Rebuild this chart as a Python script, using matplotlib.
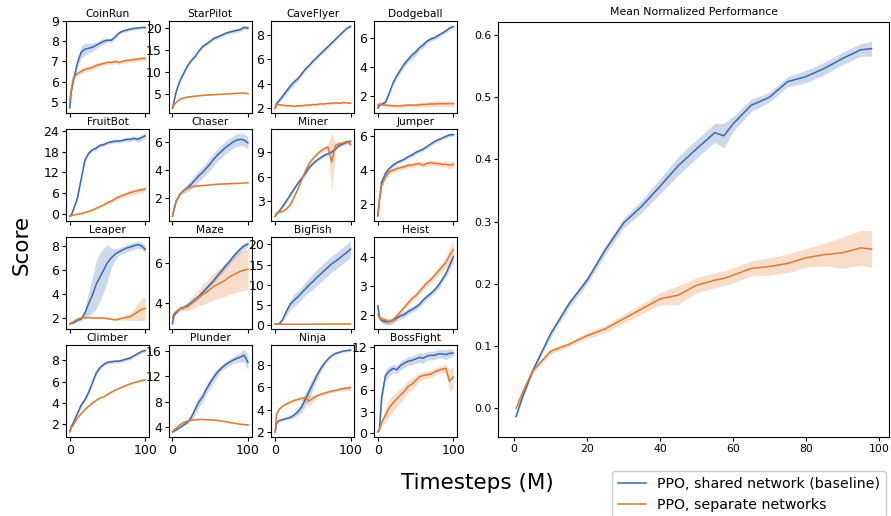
import matplotlib
matplotlib.use("Agg")
import matplotlib.pyplot as plt

steps = [0, 2, 5, 10, 15, 20, 25, 30, 35, 40, 45, 50, 55, 60, 65, 70, 75, 80, 85, 90, 95, 100]
mean_steps = [0.5, 2, 5, 10, 15, 20, 25, 30, 35, 40, 45, 50, 55, 57.5, 60, 65, 70, 75, 80, 85, 90, 95, 98]

games = ["CoinRun", "StarPilot", "CaveFlyer", "Dodgeball",
         "FruitBot", "Chaser", "Miner", "Jumper",
         "Leaper", "Maze", "BigFish", "Heist",
         "Climber", "Plunder", "Ninja", "BossFight"]

game_yticks = [[5, 6, 7, 8, 9], [5, 10, 15, 20], [2, 4, 6, 8], [2, 4, 6],
               [0, 6, 12, 18, 24], [2, 4, 6], [3, 6, 9], [2, 4, 6],
               [2, 4, 6, 8], [4, 6], [0, 5, 10, 15, 20], [2, 3, 4],
               [2, 4, 6, 8], [4, 8, 12, 16], [2, 4, 6, 8], [0, 3, 6, 9, 12]]

# PPO, shared network (baseline)
shared = [
    [4.7, 5.5, 6.1, 6.9, 7.45, 7.6, 7.65, 7.7, 7.8, 7.9, 8.0, 8.05, 8.05, 8.2, 8.4, 8.5, 8.55, 8.6, 8.63, 8.65, 8.68, 8.68],
    [1.6, 3.2, 5.5, 8.0, 9.7, 11.4, 12.6, 13.5, 14.8, 15.8, 16.4, 17.0, 17.7, 18.0, 18.4, 18.8, 19.1, 19.3, 19.5, 19.7, 20.2, 20.0],
    [2.0, 2.4, 2.6, 3.0, 3.4, 3.8, 4.15, 4.4, 4.8, 5.2, 5.5, 5.85, 6.15, 6.45, 6.75, 7.05, 7.35, 7.65, 7.95, 8.25, 8.55, 8.7],
    [1.2, 1.4, 1.45, 1.6, 2.2, 2.9, 3.4, 3.8, 4.2, 4.5, 4.8, 5.0, 5.3, 5.5, 5.75, 5.9, 6.0, 6.15, 6.3, 6.45, 6.65, 6.75],
    [-0.5, -0.3, 1.5, 4.5, 10.0, 15.5, 17.5, 18.5, 19.0, 19.8, 20.0, 20.5, 20.8, 21.0, 21.0, 21.2, 21.5, 21.5, 21.8, 21.5, 22.0, 22.5],
    [0.7, 1.2, 1.8, 2.3, 2.55, 2.75, 3.0, 3.3, 3.6, 3.85, 4.15, 4.45, 4.8, 5.1, 5.35, 5.6, 5.8, 6.0, 6.15, 6.2, 6.15, 5.95],
    [1.2, 1.5, 1.8, 2.4, 3.1, 3.8, 4.5, 5.2, 5.8, 6.4, 7.1, 7.6, 8.0, 8.3, 8.6, 8.8, 9.0, 9.4, 9.8, 10.0, 10.2, 10.3],
    [1.3, 2.2, 3.3, 3.8, 4.1, 4.3, 4.45, 4.55, 4.65, 4.8, 4.9, 5.05, 5.15, 5.25, 5.4, 5.55, 5.7, 5.8, 5.9, 6.0, 6.1, 6.1],
    [1.5, 1.55, 1.6, 1.8, 1.9, 2.4, 3.2, 3.9, 4.8, 5.4, 6.0, 6.6, 7.0, 7.3, 7.5, 7.65, 7.8, 7.9, 8.0, 8.1, 8.0, 7.7],
    [3.0, 3.4, 3.55, 3.75, 3.8, 3.9, 4.05, 4.2, 4.35, 4.55, 4.75, 4.95, 5.15, 5.4, 5.6, 5.85, 6.05, 6.3, 6.5, 6.7, 6.85, 6.95],
    [0.3, 0.3, 0.3, 1.5, 3.5, 5.2, 6.2, 7.0, 8.0, 9.0, 10.0, 10.8, 11.8, 12.6, 13.5, 14.3, 15.2, 15.8, 16.5, 17.3, 18.0, 18.8],
    [2.3, 1.9, 1.8, 1.75, 1.75, 1.8, 1.88, 1.95, 2.0, 2.1, 2.17, 2.25, 2.35, 2.5, 2.62, 2.72, 2.85, 3.0, 3.2, 3.4, 3.7, 4.0],
    [1.4, 1.8, 2.2, 3.0, 3.8, 4.3, 5.0, 5.9, 6.8, 7.3, 7.6, 7.8, 7.85, 7.9, 7.9, 8.0, 8.1, 8.2, 8.4, 8.6, 8.8, 8.9],
    [3.3, 3.4, 3.6, 4.0, 4.4, 4.8, 5.6, 6.8, 8.0, 8.8, 10.0, 11.0, 11.9, 12.7, 13.3, 13.8, 14.2, 14.5, 14.8, 15.0, 15.3, 14.2],
    [2.0, 2.8, 3.0, 3.1, 3.2, 3.3, 3.5, 3.8, 4.2, 4.9, 5.6, 6.3, 7.0, 7.6, 8.1, 8.5, 8.8, 9.0, 9.1, 9.2, 9.25, 9.3],
    [0.2, 0.5, 5.0, 8.0, 8.6, 9.0, 8.8, 9.4, 9.7, 10.0, 10.1, 10.3, 10.5, 10.4, 10.7, 10.8, 10.8, 11.0, 11.0, 10.9, 11.1, 11.1],
]
shared_sd = [
    [0.05, 0.1, 0.15, 0.2, 0.3, 0.3, 0.25, 0.2, 0.15, 0.15, 0.15, 0.1, 0.1, 0.1, 0.08, 0.08, 0.08, 0.08, 0.06, 0.06, 0.06, 0.06],
    [0.1, 0.2, 0.3, 0.4, 0.4, 0.4, 0.4, 0.4, 0.4, 0.4, 0.4, 0.4, 0.4, 0.4, 0.4, 0.4, 0.4, 0.4, 0.4, 0.5, 0.5, 0.5],
    [0.05, 0.1, 0.15, 0.25, 0.25, 0.25, 0.2, 0.2, 0.15, 0.15, 0.15, 0.15, 0.15, 0.15, 0.15, 0.15, 0.15, 0.12, 0.12, 0.1, 0.1, 0.1],
    [0.05, 0.05, 0.1, 0.1, 0.15, 0.15, 0.2, 0.2, 0.2, 0.2, 0.25, 0.25, 0.2, 0.2, 0.15, 0.15, 0.15, 0.15, 0.12, 0.12, 0.12, 0.1],
    [0.2, 0.2, 0.3, 0.4, 0.5, 0.5, 0.5, 0.5, 0.5, 0.5, 0.5, 0.5, 0.5, 0.5, 0.5, 0.5, 0.6, 0.6, 0.6, 0.8, 0.8, 0.8],
    [0.03, 0.05, 0.05, 0.1, 0.2, 0.3, 0.35, 0.4, 0.4, 0.4, 0.45, 0.45, 0.45, 0.45, 0.45, 0.45, 0.45, 0.45, 0.45, 0.45, 0.45, 0.45],
    [0.05, 0.1, 0.1, 0.15, 0.2, 0.2, 0.2, 0.2, 0.2, 0.2, 0.2, 0.2, 0.2, 0.2, 0.2, 0.2, 0.2, 0.2, 0.2, 0.2, 0.2, 0.2],
    [0.05, 0.1, 0.1, 0.1, 0.1, 0.1, 0.1, 0.1, 0.1, 0.1, 0.1, 0.1, 0.1, 0.1, 0.1, 0.1, 0.1, 0.1, 0.1, 0.1, 0.1, 0.1],
    [0.05, 0.05, 0.05, 0.1, 0.1, 0.3, 1.0, 1.5, 2.0, 2.0, 1.8, 1.5, 0.8, 0.5, 0.3, 0.3, 0.3, 0.3, 0.3, 0.3, 0.3, 0.3],
    [0.05, 0.1, 0.1, 0.1, 0.1, 0.1, 0.1, 0.12, 0.12, 0.12, 0.12, 0.12, 0.12, 0.15, 0.15, 0.15, 0.15, 0.15, 0.15, 0.15, 0.15, 0.15],
    [0.0, 0.0, 0.1, 0.5, 1.0, 1.2, 1.5, 1.5, 1.5, 1.6, 1.8, 2.0, 2.0, 2.0, 2.0, 2.0, 2.0, 2.0, 2.0, 2.0, 2.0, 2.0],
    [0.1, 0.1, 0.1, 0.1, 0.1, 0.1, 0.1, 0.1, 0.1, 0.1, 0.1, 0.1, 0.1, 0.1, 0.1, 0.1, 0.1, 0.12, 0.12, 0.12, 0.15, 0.15],
    [0.05, 0.1, 0.1, 0.15, 0.2, 0.2, 0.2, 0.2, 0.2, 0.2, 0.15, 0.15, 0.15, 0.15, 0.15, 0.15, 0.15, 0.15, 0.15, 0.15, 0.15, 0.15],
    [0.1, 0.1, 0.1, 0.1, 0.1, 0.2, 0.5, 0.8, 0.8, 0.8, 0.8, 0.8, 0.8, 0.6, 0.5, 0.5, 0.5, 0.5, 0.6, 0.8, 1.0, 1.2],
    [0.05, 0.1, 0.1, 0.1, 0.1, 0.15, 0.2, 0.3, 0.5, 0.6, 0.6, 0.5, 0.4, 0.3, 0.2, 0.15, 0.1, 0.1, 0.1, 0.1, 0.1, 0.1],
    [0.1, 0.2, 0.8, 0.8, 0.7, 0.6, 0.6, 0.6, 0.6, 0.6, 0.6, 0.6, 0.7, 0.7, 0.6, 0.6, 0.6, 0.6, 0.6, 0.7, 0.6, 0.5],
]

# PPO, separate networks
separate = [
    [5.1, 5.6, 6.2, 6.4, 6.5, 6.6, 6.65, 6.7, 6.8, 6.85, 6.9, 6.95, 6.95, 7.0, 6.95, 7.0, 7.05, 7.05, 7.1, 7.1, 7.15, 7.15],
    [1.6, 2.4, 3.0, 3.7, 4.0, 4.2, 4.3, 4.4, 4.5, 4.6, 4.65, 4.7, 4.75, 4.8, 4.85, 4.9, 4.95, 5.0, 5.05, 5.1, 5.1, 5.0],
    [2.0, 2.3, 2.3, 2.25, 2.2, 2.2, 2.15, 2.2, 2.2, 2.25, 2.25, 2.3, 2.3, 2.35, 2.35, 2.4, 2.4, 2.45, 2.4, 2.45, 2.45, 2.4],
    [1.4, 1.5, 1.45, 1.4, 1.38, 1.35, 1.35, 1.35, 1.38, 1.4, 1.4, 1.4, 1.42, 1.45, 1.45, 1.48, 1.48, 1.5, 1.5, 1.5, 1.5, 1.5],
    [-0.5, -0.4, -0.2, 0.0, 0.2, 0.5, 0.8, 1.2, 1.7, 2.2, 2.7, 3.3, 3.8, 4.4, 5.0, 5.4, 5.8, 6.2, 6.5, 6.8, 7.0, 7.2],
    [0.7, 1.2, 1.8, 2.3, 2.55, 2.7, 2.8, 2.85, 2.88, 2.9, 2.92, 2.95, 2.97, 3.0, 3.0, 3.02, 3.03, 3.05, 3.05, 3.07, 3.08, 3.1],
    [1.2, 1.6, 1.7, 1.8, 2.1, 2.6, 3.5, 4.5, 5.6, 6.7, 7.6, 8.2, 8.7, 9.1, 9.4, 9.6, 7.8, 9.8, 10.0, 10.1, 10.3, 9.9],
    [1.3, 2.3, 3.1, 3.6, 3.9, 4.0, 4.1, 4.15, 4.2, 4.3, 4.3, 4.35, 4.4, 4.3, 4.4, 4.45, 4.4, 4.4, 4.35, 4.35, 4.3, 4.35],
    [1.5, 1.6, 1.7, 1.9, 2.0, 2.0, 2.05, 2.0, 2.0, 2.0, 2.0, 1.95, 1.9, 1.85, 1.9, 2.0, 2.05, 2.1, 2.3, 2.5, 2.7, 2.8],
    [3.3, 3.5, 3.6, 3.75, 3.8, 3.85, 4.0, 4.15, 4.3, 4.45, 4.55, 4.7, 4.85, 4.95, 5.05, 5.15, 5.3, 5.4, 5.5, 5.6, 5.65, 5.7],
    [0.3, 0.3, 0.3, 0.3, 0.3, 0.3, 0.3, 0.3, 0.3, 0.32, 0.32, 0.32, 0.33, 0.33, 0.33, 0.34, 0.34, 0.35, 0.35, 0.35, 0.35, 0.35],
    [2.0, 1.9, 1.85, 1.8, 1.75, 1.8, 1.95, 2.1, 2.25, 2.4, 2.55, 2.65, 2.8, 2.95, 3.1, 3.2, 3.35, 3.5, 3.65, 3.8, 4.05, 4.25],
    [1.3, 1.7, 2.0, 2.6, 3.0, 3.4, 3.7, 4.0, 4.25, 4.45, 4.6, 4.8, 5.0, 5.2, 5.35, 5.5, 5.65, 5.8, 5.9, 6.0, 6.1, 6.15],
    [3.3, 3.6, 3.9, 4.4, 4.8, 5.0, 5.15, 5.2, 5.25, 5.25, 5.2, 5.2, 5.15, 5.1, 5.0, 4.9, 4.8, 4.7, 4.6, 4.5, 4.45, 4.4],
    [2.0, 3.6, 4.0, 4.3, 4.5, 4.65, 4.8, 4.9, 5.0, 5.0, 4.75, 5.0, 5.2, 5.35, 5.45, 5.55, 5.65, 5.7, 5.8, 5.85, 5.9, 5.95],
    [0.2, 0.5, 1.5, 2.5, 3.5, 4.2, 4.75, 5.3, 5.8, 6.5, 6.8, 7.3, 7.8, 8.0, 8.1, 8.2, 8.5, 8.7, 8.9, 9.0, 7.2, 7.8],
]
separate_sd = [
    [0.05, 0.1, 0.1, 0.1, 0.1, 0.12, 0.12, 0.12, 0.12, 0.1, 0.1, 0.1, 0.1, 0.1, 0.1, 0.1, 0.1, 0.1, 0.1, 0.1, 0.1, 0.1],
    [0.05, 0.1, 0.1, 0.1, 0.1, 0.1, 0.1, 0.1, 0.1, 0.1, 0.1, 0.1, 0.1, 0.1, 0.1, 0.1, 0.1, 0.1, 0.1, 0.1, 0.1, 0.1],
    [0.05, 0.08, 0.08, 0.08, 0.08, 0.08, 0.08, 0.08, 0.08, 0.08, 0.08, 0.08, 0.08, 0.08, 0.08, 0.08, 0.08, 0.08, 0.08, 0.08, 0.08, 0.08],
    [0.05, 0.1, 0.1, 0.1, 0.1, 0.1, 0.1, 0.1, 0.12, 0.12, 0.12, 0.15, 0.15, 0.15, 0.18, 0.18, 0.2, 0.2, 0.2, 0.2, 0.2, 0.2],
    [0.05, 0.1, 0.1, 0.1, 0.15, 0.2, 0.25, 0.3, 0.35, 0.4, 0.45, 0.5, 0.5, 0.6, 0.7, 0.7, 0.8, 0.8, 0.8, 0.8, 0.8, 0.8],
    [0.03, 0.03, 0.03, 0.03, 0.03, 0.03, 0.03, 0.03, 0.03, 0.03, 0.03, 0.03, 0.03, 0.03, 0.03, 0.03, 0.03, 0.03, 0.03, 0.03, 0.03, 0.03],
    [0.05, 0.1, 0.1, 0.1, 0.15, 0.15, 0.15, 0.15, 0.15, 0.15, 0.15, 0.15, 0.2, 0.2, 0.3, 0.4, 3.5, 0.4, 0.3, 0.2, 0.2, 0.3],
    [0.05, 0.1, 0.15, 0.15, 0.15, 0.15, 0.15, 0.15, 0.15, 0.15, 0.15, 0.15, 0.15, 0.15, 0.15, 0.15, 0.15, 0.15, 0.15, 0.15, 0.2, 0.2],
    [0.05, 0.05, 0.05, 0.05, 0.05, 0.05, 0.05, 0.05, 0.05, 0.05, 0.05, 0.05, 0.05, 0.05, 0.1, 0.15, 0.2, 0.3, 0.5, 0.7, 0.9, 1.0],
    [0.05, 0.05, 0.1, 0.1, 0.15, 0.2, 0.3, 0.35, 0.4, 0.5, 0.55, 0.6, 0.65, 0.7, 0.75, 0.8, 0.85, 0.9, 0.95, 1.0, 1.0, 1.0],
    [0.05, 0.05, 0.05, 0.05, 0.05, 0.05, 0.05, 0.05, 0.05, 0.05, 0.05, 0.05, 0.05, 0.05, 0.05, 0.05, 0.05, 0.05, 0.05, 0.05, 0.05, 0.05],
    [0.1, 0.1, 0.1, 0.1, 0.1, 0.1, 0.1, 0.1, 0.1, 0.1, 0.1, 0.1, 0.1, 0.1, 0.12, 0.12, 0.12, 0.15, 0.15, 0.2, 0.25, 0.3],
    [0.05, 0.08, 0.08, 0.08, 0.08, 0.08, 0.08, 0.08, 0.08, 0.08, 0.08, 0.08, 0.08, 0.08, 0.08, 0.08, 0.08, 0.08, 0.08, 0.08, 0.08, 0.08],
    [0.05, 0.08, 0.08, 0.08, 0.08, 0.08, 0.08, 0.08, 0.08, 0.08, 0.08, 0.08, 0.08, 0.08, 0.08, 0.08, 0.08, 0.08, 0.08, 0.08, 0.08, 0.08],
    [0.05, 0.1, 0.1, 0.1, 0.1, 0.1, 0.1, 0.15, 0.2, 0.3, 0.5, 0.3, 0.2, 0.15, 0.15, 0.15, 0.15, 0.15, 0.15, 0.2, 0.2, 0.25],
    [0.1, 0.2, 0.5, 1.0, 1.2, 1.2, 1.0, 1.0, 0.8, 0.8, 0.8, 0.7, 0.6, 0.5, 0.5, 0.5, 0.5, 0.5, 0.5, 0.6, 1.5, 1.5],
]

# mean normalized performance
mean_shared = [-0.013, 0.014, 0.06, 0.12, 0.168, 0.206, 0.255, 0.298, 0.325, 0.357, 0.39, 0.417, 0.443,
               0.438, 0.457, 0.487, 0.5, 0.525, 0.533, 0.546, 0.562, 0.576, 0.578]
mean_shared_sd = [0.003, 0.003, 0.004, 0.005, 0.006, 0.006, 0.007, 0.008, 0.01, 0.012, 0.015, 0.015, 0.015,
                  0.02, 0.012, 0.01, 0.008, 0.008, 0.01, 0.01, 0.01, 0.01, 0.012]
mean_separate = [0.0, 0.022, 0.06, 0.092, 0.103, 0.117, 0.128, 0.144, 0.16, 0.176, 0.182, 0.198, 0.206,
                 0.209, 0.214, 0.225, 0.228, 0.233, 0.242, 0.247, 0.25, 0.258, 0.256]
mean_separate_sd = [0.003, 0.003, 0.004, 0.004, 0.004, 0.005, 0.006, 0.007, 0.008, 0.01, 0.015, 0.012, 0.012,
                    0.012, 0.012, 0.012, 0.014, 0.015, 0.015, 0.018, 0.025, 0.028, 0.03]

BLUE = "#3a68b2"
ORANGE = "#e07a2f"


def band(ax, x, y, sd, color):
    lo = [a - b for a, b in zip(y, sd)]
    hi = [a + b for a, b in zip(y, sd)]
    ax.fill_between(x, lo, hi, color=color, alpha=0.25, lw=0)
    line, = ax.plot(x, y, color=color, lw=1.1)
    return line


fig = plt.figure(figsize=(8.91, 5.16), dpi=100)

W, H = 891, 516
for i, name in enumerate(games):
    r, c = divmod(i, 4)
    left = 66 + c * 102.7
    bottom = 113 + r * 107.9
    ax = fig.add_axes([left / W, 1 - bottom / H, 83 / W, 92 / H])
    band(ax, steps, shared[i], shared_sd[i], BLUE)
    band(ax, steps, separate[i], separate_sd[i], ORANGE)
    ax.set_title(name, fontsize=7.7, pad=3)
    ax.set_yticks(game_yticks[i])
    ax.set_xticks([0, 100])
    ax.tick_params(labelsize=9, length=3, pad=2)
    if r < 3:
        ax.set_xticklabels([])

big = fig.add_axes([498.3 / W, 1 - 437.3 / H, 391 / W, 415 / H])
l1 = band(big, mean_steps, mean_shared, mean_shared_sd, BLUE)
l2 = band(big, mean_steps, mean_separate, mean_separate_sd, ORANGE)
big.set_title("Mean Normalized Performance", fontsize=7.8, pad=5)
big.tick_params(labelsize=7.8, length=3, pad=2)

fig.text(22 / W, 1 - 245 / H, "Score", rotation=90, fontsize=15.5, ha="center", va="center")
fig.text(477 / W, 1 - 483 / H, "Timesteps (M)", fontsize=15.5, ha="center", va="center")

fig.legend([l1, l2], ["PPO, shared network (baseline)", "PPO, separate networks"],
           loc="upper left", bbox_to_anchor=(612 / W, 1 - 471 / H), borderaxespad=0,
           fontsize=10.2, handlelength=2.0, framealpha=1)

fig.savefig("out.png", dpi=100)
